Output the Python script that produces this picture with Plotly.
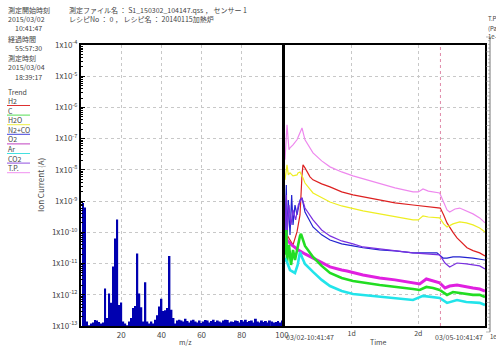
import plotly.graph_objects as go

W, H = 496, 349

# ---------------- data ----------------
mz = list(range(1, 101))
spectrum = [
    8.7e-10, 6.2e-10, 1.4e-13, 1.05e-13, 1.2e-13, 1.3e-13, 1.55e-13, 1.5e-13, 1.35e-13, 1.2e-13,
    1.3e-13, 1.6e-12, 1.8e-13, 1.1e-12, 5.6e-13, 8.0e-12, 6.4e-11, 2.6e-10, 4.7e-13, 5.7e-13,
    1.4e-13, 1.2e-13, 1.05e-13, 1.4e-13, 1.8e-13, 3.8e-13, 4.4e-13, 2.1e-11, 1.1e-12, 4.0e-13,
    1.4e-13, 2.5e-12, 1.4e-13, 1.2e-13, 1.4e-13, 1.2e-13, 1.6e-13, 2.2e-13, 4.2e-13, 7.5e-13,
    3.0e-13, 3.2e-13, 3.8e-13, 1.75e-11, 3.3e-13, 1.8e-13, 1.2e-13, 1.5e-13, 1.6e-13, 1.5e-13,
    1.4e-13, 1.7e-13, 1.45e-13, 1.3e-13, 1.5e-13, 1.6e-13, 1.4e-13, 1.3e-13, 1.5e-13, 1.25e-13,
    1.4e-13, 1.55e-13, 1.5e-13, 1.3e-13, 1.45e-13, 1.6e-13, 1.35e-13, 1.5e-13, 1.4e-13, 1.3e-13,
    1.5e-13, 1.6e-13, 1.55e-13, 1.3e-13, 1.4e-13, 1.35e-13, 1.5e-13, 1.45e-13, 1.3e-13, 1.55e-13,
    1.4e-13, 1.6e-13, 1.35e-13, 1.45e-13, 1.5e-13, 1.3e-13, 1.7e-13, 1.4e-13, 1.3e-13, 1.5e-13,
    1.35e-13, 1.45e-13, 1.3e-13, 1.5e-13, 1.4e-13, 1.3e-13, 1.35e-13, 1.45e-13, 1.3e-13, 1.5e-13,
]

# trend data: time in days since start, ion current in A
tp_t = [0.0, 0.03, 0.06, 0.075, 0.12, 0.18, 0.255, 0.3, 0.42, 0.55, 0.675, 0.85, 1.02, 1.17, 1.4,
        1.65, 1.92, 2.0, 2.07, 2.15, 2.32, 2.37, 2.43, 2.47, 2.55, 2.62, 2.72, 2.82, 2.92, 3.0]
tp_v = [2.1e-8, 2.77e-7, 4.4e-8, 5.1e-8, 6.3e-8, 9.2e-8, 2.2e-7, 9.2e-8, 3.5e-8, 1.94e-8, 1.25e-8,
        8.6e-9, 6.4e-9, 5.15e-9, 3.8e-9, 2.65e-9, 1.97e-9, 1.97e-9, 2.46e-9, 2.1e-9, 1.83e-9,
        1.09e-9, 5.2e-10, 4.5e-10, 5.6e-10, 6.0e-10, 4.85e-10, 3.9e-10, 2.9e-10, 2.0e-10]

h2_t = [0.0, 0.03, 0.075, 0.12, 0.18, 0.225, 0.255, 0.27, 0.3, 0.375, 0.42, 0.55, 0.675, 0.85,
        1.02, 1.17, 1.42, 1.65, 1.92, 2.2, 2.33, 2.38, 2.43, 2.52, 2.58, 2.73, 2.82, 2.92, 3.0]
h2_v = [3.95e-11, 8.3e-11, 5.7e-11, 3.95e-11, 1.03e-10, 3.6e-10, 6.9e-9, 1.45e-8, 1.16e-8, 6.0e-9,
        4.8e-9, 3.56e-9, 2.85e-9, 1.97e-9, 1.58e-9, 1.36e-9, 1.09e-9, 8.75e-10, 7.5e-10, 6.5e-10,
        6.0e-10, 3.6e-10, 2.0e-10, 1.0e-10, 6.6e-11, 3.2e-11, 2.6e-11, 2.2e-11, 1.75e-11]

h2o_t = [0.0, 0.03, 0.05, 0.075, 0.12, 0.18, 0.195, 0.225, 0.27, 0.3, 0.42, 0.55, 0.675, 0.85,
         1.02, 1.17, 1.42, 1.65, 1.92, 2.0, 2.07, 2.15, 2.32, 2.38, 2.43, 2.52, 2.62, 2.72, 2.82,
         2.92, 3.0]
h2o_v = [4.8e-9, 1.45e-8, 6.9e-9, 8.0e-9, 6.4e-9, 6.9e-9, 8.0e-9, 8.6e-9, 5.55e-9, 3.8e-9, 1.83e-9,
         1.27e-9, 9.4e-10, 7.0e-10, 5.6e-10, 4.85e-10, 3.9e-10, 3.1e-10, 2.5e-10, 2.5e-10, 3.36e-10,
         3.1e-10, 2.9e-10, 1.86e-10, 1.49e-10, 1.86e-10, 2.15e-10, 2.0e-10, 1.73e-10, 1.38e-10,
         1.03e-10]

n2_t = [0.0, 0.02, 0.03, 0.05, 0.075, 0.1, 0.12, 0.15, 0.18, 0.225, 0.255, 0.3, 0.42, 0.55, 0.675,
        0.85, 1.02, 1.17, 1.42, 1.65, 1.92, 2.28, 2.37, 2.43, 2.52, 2.62, 2.82, 2.92, 3.0]
n2_v = [1.19e-10, 3.3e-9, 5.7e-11, 1.09e-9, 8.3e-11, 1.58e-9, 1.73e-10, 7.5e-10, 3.6e-10, 1.09e-9,
        1.27e-9, 4.5e-10, 1.49e-10, 8.3e-11, 5.7e-11, 4.25e-11, 3.66e-11, 3.2e-11, 2.73e-11,
        2.54e-11, 2.2e-11, 2.2e-11, 1.5e-11, 1.5e-11, 1.63e-11, 1.63e-11, 1.5e-11, 1.4e-11, 1.3e-11]

co2_t = [0.0, 0.02, 0.035, 0.06, 0.09, 0.12, 0.16, 0.2, 0.255, 0.3, 0.42, 0.55, 0.675, 0.85, 1.02,
         1.17, 1.42, 1.65, 1.92, 2.32, 2.40, 2.47, 2.58, 2.72, 2.82, 2.92, 3.0]
co2_v = [8.3e-11, 1.58e-9, 1.19e-10, 7.5e-10, 1.73e-10, 5.2e-10, 2.5e-10, 7.5e-10, 1.27e-9, 6.0e-10,
         2.5e-10, 1.19e-10, 7.7e-11, 5.3e-11, 4.25e-11, 3.4e-11, 2.94e-11, 2.54e-11, 2.2e-11,
         1.9e-11, 1.04e-11, 7.8e-12, 1.04e-11, 9.7e-12, 9.0e-12, 8.4e-12, 6.7e-12]

o2_t = [0.0, 0.03, 0.1, 0.2, 0.3, 0.42, 0.55, 0.675, 0.85, 0.93, 1.17, 1.42, 1.65, 1.92, 2.02,
        2.12, 2.22, 2.32, 2.4, 2.47, 2.58, 2.72, 2.82, 2.92, 3.0]
o2_v = [1.19e-10, 5.7e-11, 3.95e-11, 2.73e-11, 2.03e-11, 1.5e-11, 1.04e-11, 7.8e-12, 6.2e-12, 5.8e-12,
        4.3e-12, 3.45e-12, 3.0e-12, 2.4e-12, 2.22e-12, 3.2e-12, 2.77e-12, 2.4e-12, 1.65e-12,
        1.91e-12, 2.06e-12, 1.78e-12, 1.65e-12, 1.53e-12, 1.32e-12]

c_t = [0.0, 0.02, 0.03, 0.06, 0.09, 0.12, 0.15, 0.19, 0.225, 0.24, 0.27, 0.3, 0.42, 0.55, 0.675,
       0.85, 1.02, 1.42, 1.92, 2.02, 2.12, 2.22, 2.32, 2.43, 2.52, 2.62, 2.82, 2.92, 3.0]
c_v = [1.9e-11, 1.19e-10, 1.12e-11, 3.95e-11, 9.0e-12, 2.73e-11, 1.3e-11, 3.95e-11, 7.7e-11, 8.9e-11,
       5.7e-11, 3.66e-11, 1.63e-11, 8.4e-12, 5.0e-12, 3.45e-12, 2.77e-12, 2.06e-12, 1.53e-12,
       1.43e-12, 1.78e-12, 1.65e-12, 1.43e-12, 9.9e-13, 1.23e-12, 1.14e-12, 9.9e-13, 9.9e-13, 8.5e-13]

ar_t = [0.0, 0.03, 0.075, 0.15, 0.19, 0.225, 0.26, 0.3, 0.42, 0.55, 0.675, 0.85, 1.02, 1.42, 1.92,
        2.07, 2.32, 2.43, 2.58, 2.72, 2.92, 3.0]
ar_v = [1.5e-11, 1.12e-11, 6.2e-12, 5.0e-12, 9.0e-12, 2.35e-11, 1.5e-11, 9.7e-12, 5.4e-12, 3.0e-12,
        1.91e-12, 1.32e-12, 1.06e-12, 8.5e-13, 6.8e-13, 9.2e-13, 7.9e-13, 5.5e-13, 6.8e-13, 5.9e-13,
        5.5e-13, 4.7e-13]

elapsed_days = (55 + 57 / 60 + 30 / 3600) / 24

decades = [-13, -12, -11, -10, -9, -8, -7, -6, -5, -4]
decade_vals = [10.0 ** d for d in decades]
decade_text = ["1x10<sup>%d</sup>" % d for d in decades]

series = [
    ("T.P", tp_t, tp_v, "#ee88ee", 1.2),
    ("H2", h2_t, h2_v, "#dd2020", 1.2),
    ("H2O", h2o_t, h2o_v, "#eeee22", 1.2),
    ("N2+CO", n2_t, n2_v, "#2222d0", 1.2),
    ("CO2", co2_t, co2_v, "#7a30e0", 1.2),
    ("O2", o2_t, o2_v, "#e020e0", 3.0),
    ("C", c_t, c_v, "#22dd22", 2.6),
    ("Ar", ar_t, ar_v, "#22e4ea", 2.6),
]
legend_order = [("H2", "#dd3030"), ("C", "#55dd55"), ("H2O", "#eeee44"), ("N2+CO", "#4444dd"),
                ("O2", "#c040c0"), ("Ar", "#44e0e0"), ("CO2", "#9050e0"), ("T.P.", "#f090f0")]

# ---------------- figure ----------------
fig = go.Figure()
fig.add_trace(go.Bar(x=mz, y=spectrum, marker=dict(color="#0000b0", line=dict(width=0)),
                     xaxis="x", yaxis="y", showlegend=False))
for name, t, v, col, lw in series:
    fig.add_trace(go.Scatter(x=t, y=v, mode="lines", line=dict(color=col, width=lw),
                             xaxis="x2", yaxis="y2", showlegend=False, name=name))

def px(x):
    return x / W

def py(y):
    return 1 - y / H

FONT = "Noto Sans CJK JP"
TXT = "#444444"
ydom = [py(326), py(45)]
axis_common = dict(showline=True, linecolor="black", linewidth=2, mirror=True,
                   gridcolor="#c8c8c8", griddash="dot", zeroline=False, automargin=False)

fig.update_layout(
    width=W, height=H, margin=dict(l=0, r=0, t=0, b=0, autoexpand=False), autosize=False,
    paper_bgcolor="white", plot_bgcolor="white", bargap=0.05,
    font=dict(family=FONT, size=7, color=TXT),
    xaxis=dict(domain=[px(81), px(282)], range=[0, 100], tickvals=[20, 40, 60, 80, 100],
               ticks="", showgrid=True, anchor="y", tickfont=dict(size=8, color=TXT), **axis_common),
    yaxis=dict(domain=ydom, type="log", range=[-13, -4], tickvals=decade_vals, ticktext=decade_text,
               ticks="inside", ticklen=4, tickcolor="black", anchor="x",
               minor=dict(ticks="inside", ticklen=2, tickcolor="black", dtick="D1", showgrid=False),
               tickfont=dict(size=8, color=TXT), **axis_common),
    xaxis2=dict(domain=[px(285), px(485)], range=[0, 3], tickvals=[1, 2], ticktext=["1d", "2d"],
                ticks="", showgrid=True, anchor="y2", tickfont=dict(size=7, color=TXT), **axis_common),
    yaxis2=dict(domain=ydom, type="log", range=[-13, -4], tickvals=decade_vals, showticklabels=False,
                ticks="", anchor="x2", **axis_common),
)

shapes = [dict(type="line", xref="x2", yref="paper", x0=elapsed_days, x1=elapsed_days,
               y0=ydom[0], y1=ydom[1], line=dict(color="#e08aa8", width=1, dash="dot"))]

# T.P (Pa) auxiliary scale on the far right (decorative axis line with ticks)
ax_x, ax_top, ax_bot = 490, 37, 332
shapes.append(dict(type="line", xref="paper", yref="paper", x0=px(ax_x), x1=px(ax_x),
                   y0=py(ax_bot), y1=py(ax_top), line=dict(color="#777777", width=1)))
n_minor = 80
for i in range(n_minor + 1):
    yy = ax_top + (ax_bot - ax_top) * i / n_minor
    ln = 4 if i % 4 == 0 else 2
    shapes.append(dict(type="line", xref="paper", yref="paper", x0=px(ax_x - ln), x1=px(ax_x),
                       y0=py(yy), y1=py(yy), line=dict(color="#888888", width=0.6)))

ann = []
def text(x, y, s, anchor="left", size=7, angle=0):
    ann.append(dict(x=px(x), y=py(y), xref="paper", yref="paper", text=s, showarrow=False,
                    xanchor=anchor, yanchor="middle", textangle=angle,
                    font=dict(family=FONT, size=size, color=TXT)))

text(6, 10, "測定開始時刻")
text(6, 19, "2015/03/02")
text(13, 28, "10:41:47")
text(6, 39, "経過時間")
text(13, 48, "55:57:30")
text(6, 58, "測定時刻")
text(6, 67, "2015/03/04")
text(13, 77, "18:39:17")
text(67, 10, "測定ファイル名 ： S1_150302_104147.qss ， センサー 1")
text(67, 19, "レシピNo ： 0 ， レシピ名 ： 20140115加熱炉")
text(6, 92, "Trend")
ly = 101
for name, col in legend_order:
    text(6, ly, name)
    shapes.append(dict(type="line", xref="paper", yref="paper", x0=px(7), x1=px(30),
                       y0=py(ly + 4.5), y1=py(ly + 4.5), line=dict(color=col, width=1)))
    ly += 9.6
text(40, 185, "Ion Current (A)", anchor="center", size=8, angle=-90)
text(185, 342, "m/z", anchor="center")
text(378, 342, "Time", anchor="center")
text(284, 337, "03/02-10:41:47")
text(485, 337, "03/05-10:41:47", anchor="right")
text(486, 18, "T.P", size=6)
text(486, 28, "(Pa", size=6)
text(486, 36, "1e-", size=6)
text(488, 336, "1e-", size=6)

fig.update_layout(annotations=ann, shapes=shapes)
fig.write_html("out.html", config={"displayModeBar": False},
               post_script="document.body.style.margin='0';document.body.style.overflow='hidden';")
